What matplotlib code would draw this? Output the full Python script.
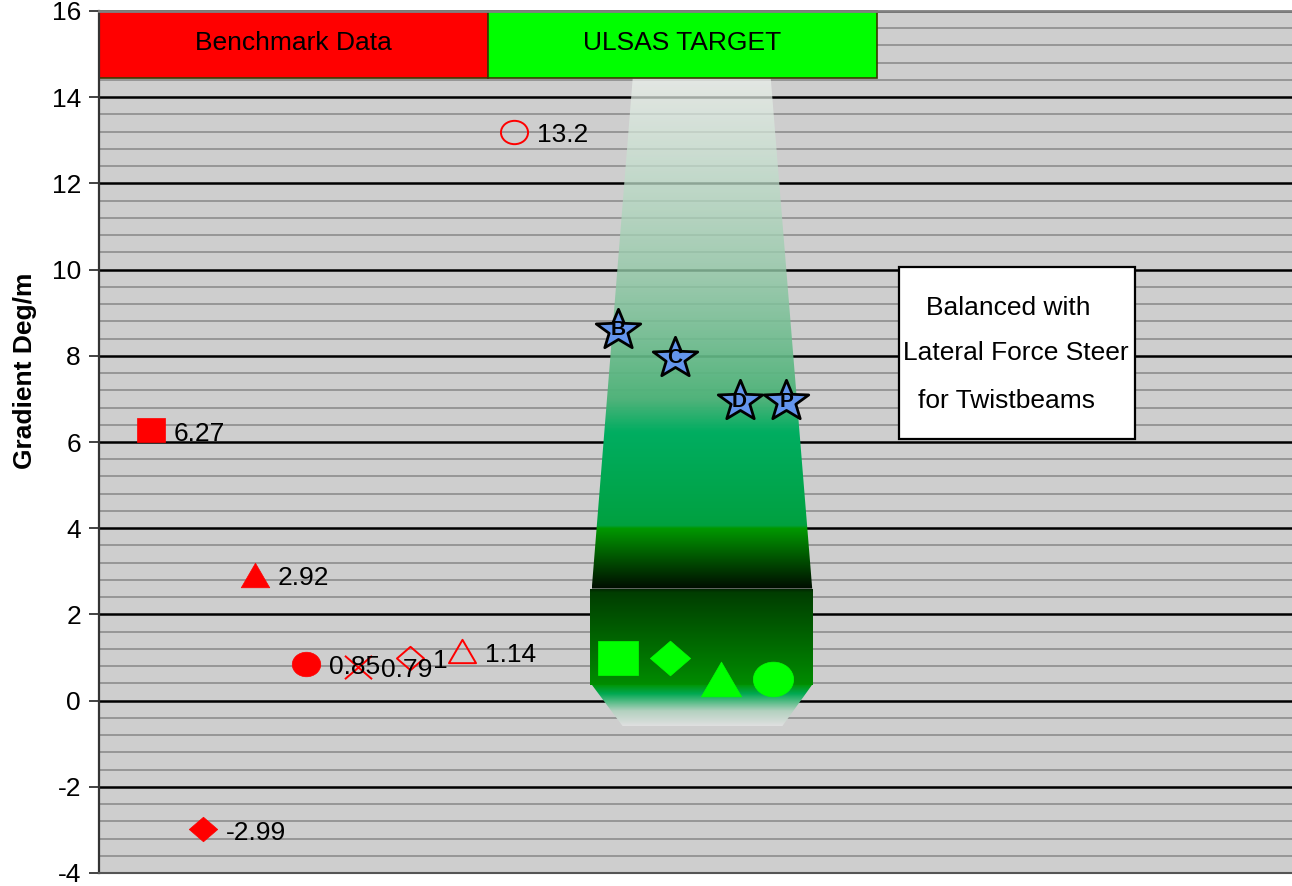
import numpy as np
import matplotlib
matplotlib.use("Agg")
import matplotlib.pyplot as plt
from matplotlib.path import Path
from matplotlib.patches import Rectangle, Polygon
from matplotlib.ticker import MultipleLocator

plt.rcParams['font.family'] = ['Liberation Sans', 'DejaVu Sans']
plt.rcParams['axes.unicode_minus'] = False

# Benchmark vehicles (red markers)
bench_x = [1, 2, 3, 4, 5, 6, 7, 8]
bench_y = [6.27, -2.99, 2.92, 0.85, 0.79, 1, 1.14, 13.2]
bench_shape = ['square', 'diamond', 'triangle', 'circle', 'x', 'diamond', 'triangle', 'circle']
bench_filled = [True, True, True, True, False, False, False, False]

# Target markers (green)
target_x = [10, 11, 12, 13]
target_y = [1.0, 1.0, 0.5, 0.5]
target_shape = ['square', 'diamond', 'triangle', 'circle']

# Twistbeam variants (stars)
star_x = [10.0, 11.1, 12.35, 13.25]
star_y = [8.65, 8.0, 7.0, 7.0]
star_names = ['B', 'C', 'D', 'P']

yticks = list(range(-4, 17, 2))
ylabel = 'Gradient Deg/m'
header_labels = ['Benchmark Data', 'ULSAS TARGET']
note_lines = ['Balanced with', 'Lateral Force Steer', 'for Twistbeams']

SX = 1.16  # horizontal stretch of marker shapes


def shape_path(name):
    if name == 'square':
        v = [(-SX, -1), (SX, -1), (SX, 1), (-SX, 1), (-SX, -1)]
        return Path(v, closed=True)
    if name == 'diamond':
        v = [(0, 1), (SX, 0), (0, -1), (-SX, 0), (0, 1)]
        return Path(v, closed=True)
    if name == 'triangle':
        v = [(0, 1), (SX, -1), (-SX, -1), (0, 1)]
        return Path(v, closed=True)
    if name == 'circle':
        c = Path.unit_circle()
        return Path(c.vertices * [SX, 1], c.codes)
    if name == 'x':
        v = [(-SX, -1), (SX, 1), (-SX, 1), (SX, -1)]
        codes = [Path.MOVETO, Path.LINETO, Path.MOVETO, Path.LINETO]
        return Path(v, codes)
    if name == 'star':
        s = Path.unit_regular_star(5, 0.42)
        v = s.vertices.copy()
        v[:, 0] *= 1.1
        v[:, 1] -= (v[:, 1].max() + v[:, 1].min()) / 2
        return Path(v, s.codes)


fig = plt.figure(figsize=(12.92, 8.86), dpi=100)
ax = fig.add_axes([99 / 1292, 13 / 886, 1 - 99 / 1292, 875 / 886 - 13 / 886])
ax.set_facecolor('#cecece')
ax.set_xlim(0, 23)
ax.set_ylim(-4, 16)

ax.set_yticks(yticks)
ax.set_yticklabels([str(t) for t in yticks])
ax.yaxis.set_minor_locator(MultipleLocator(0.4))
ax.set_xticks([])
ax.tick_params(axis='y', which='major', length=7, width=1.2, labelsize=19, pad=6, color='#222222')
ax.tick_params(axis='y', which='minor', length=0)
ax.set_axisbelow(True)
ax.grid(axis='y', which='minor', color='#8c8c8c', lw=1.2)
ax.grid(axis='y', which='major', color='#000000', lw=1.8)
ax.spines['right'].set_visible(False)
ax.spines['left'].set_color('#333333')
ax.spines['left'].set_linewidth(1.6)
ax.spines['top'].set_color('#808080')
ax.spines['top'].set_linewidth(2)
ax.spines['bottom'].set_color('#555555')
ax.spines['bottom'].set_linewidth(1.5)

ax.set_ylabel(ylabel, fontsize=19, fontweight='bold')
ax.yaxis.set_label_coords(-0.052, 0.583)

# Header boxes
ax.add_patch(Rectangle((0, 14.45), 7.5, 1.55, facecolor='#ff0000', edgecolor='#3a3a00', lw=1.2, zorder=2, clip_on=False))
ax.add_patch(Rectangle((7.5, 14.45), 7.5, 1.55, facecolor='#00ff00', edgecolor='#3a3a00', lw=1.2, zorder=2, clip_on=False))
ax.text(3.75, 15.25, header_labels[0], ha='center', va='center', fontsize=19, zorder=3)
ax.text(11.25, 15.25, header_labels[1], ha='center', va='center', fontsize=19, zorder=3)


def gradient_fill(poly_xy, stops, zorder=1):
    xs = [p[0] for p in poly_xy]
    ys = [p[1] for p in poly_xy]
    y0, y1 = min(ys), max(ys)
    n = 400
    yy = np.linspace(y1, y0, n)
    sy = np.array([s[0] for s in stops])
    cols = np.array([s[1] for s in stops])
    order = np.argsort(sy)
    sy = sy[order]
    cols = cols[order]
    rgba = np.zeros((n, 1, 4))
    for k in range(4):
        rgba[:, 0, k] = np.interp(yy, sy, cols[:, k])
    poly = Polygon(poly_xy, closed=True, facecolor='none', edgecolor='none')
    ax.add_patch(poly)
    im = ax.imshow(rgba, extent=[min(xs), max(xs), y0, y1], aspect='auto',
                   interpolation='bilinear', zorder=zorder)
    im.set_clip_path(poly)


# Light beam above the target region
gradient_fill([(9.50, 2.60), (13.75, 2.60), (12.95, 14.45), (10.29, 14.45)],
              [(14.45, (0.93, 0.95, 0.93, 0.7)),
               (10.0, (0.58, 0.79, 0.66, 0.8)),
               (7.0, (0.30, 0.70, 0.47, 0.97)),
               (6.24, (0.0, 0.68, 0.38, 1.0)),
               (4.06, (0.0, 0.63, 0.25, 1.0)),
               (4.0, (0.0, 0.60, 0.0, 1.0)),
               (2.60, (0.0, 0.05, 0.0, 1.0))])
gradient_fill([(9.46, 0.37), (13.76, 0.37), (13.76, 2.60), (9.46, 2.60)],
              [(2.60, (0.0, 0.12, 0.0, 1.0)),
               (2.50, (0.0, 0.24, 0.0, 1.0)),
               (0.37, (0.0, 0.55, 0.0, 1.0))])
gradient_fill([(9.50, 0.37), (13.75, 0.37), (13.17, -0.60), (10.10, -0.60)],
              [(0.37, (0.0, 0.58, 0.0, 1.0)),
               (0.15, (0.0, 0.66, 0.32, 1.0)),
               (-0.25, (0.70, 0.82, 0.75, 1.0)),
               (-0.60, (0.88, 0.88, 0.88, 1.0))])

# Benchmark markers with value labels
for x, y, shp, filled in zip(bench_x, bench_y, bench_shape, bench_filled):
    if filled:
        ax.plot(x, y, marker=shape_path(shp), ms=20.5, mfc='#ff0000', mec='#ff0000',
                mew=0.5, ls='none', zorder=4)
    else:
        ax.plot(x, y, marker=shape_path(shp), ms=19.5, mfc='none', mec='#ff0000',
                mew=1.4, ls='none', zorder=4)
    ax.annotate(f"{y:g}", xy=(x, y), xytext=(16.5, -2.5), textcoords='offset points',
                ha='left', va='center', fontsize=19, zorder=5)

# Target markers
for x, y, shp in zip(target_x, target_y, target_shape):
    ax.plot(x, y, marker=shape_path(shp), ms=29, mfc='#00ff00', mec='#00ff00',
            mew=0.5, ls='none', zorder=4)

# Star markers with variant letters
for x, y, name in zip(star_x, star_y, star_names):
    ax.plot(x, y, marker=shape_path('star'), ms=32, mfc='#6495ed', mec='black',
            mew=2, ls='none', zorder=4)
    ax.text(x, y - 0.05, name, ha='center', va='center', fontsize=15, fontweight='bold', zorder=5)

# Note box
ax.add_patch(Rectangle((15.42, 6.08), 4.56, 3.99, facecolor='white', edgecolor='black', lw=1.6, zorder=3))
for (lx, ly), line in zip([(17.53, 9.12), (17.68, 8.07), (17.49, 6.96)], note_lines):
    ax.text(lx, ly, line, ha='center', va='center', fontsize=19, zorder=4)

fig.savefig('out.png', dpi=100)
